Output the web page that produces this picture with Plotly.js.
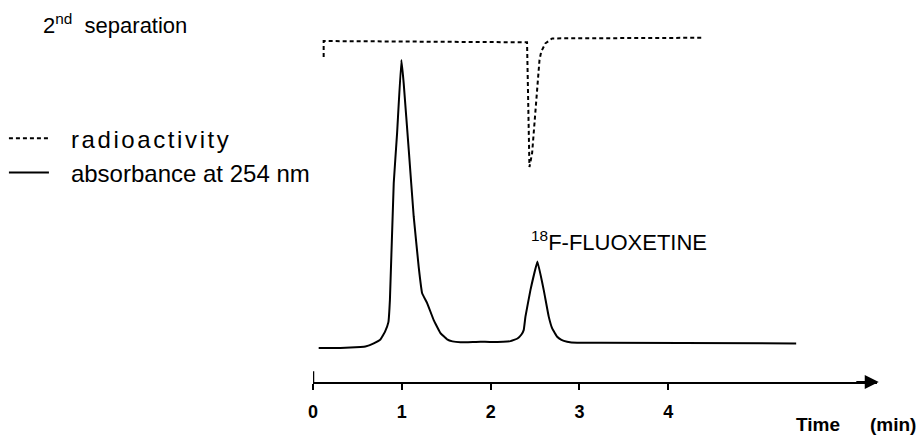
<!DOCTYPE html>
<html>
<head>
<meta charset="utf-8">
<script src="https://cdn.plot.ly/plotly-3.0.1.min.js"></script>
<style>
html,body{margin:0;padding:0;background:#fff;}
#chart{width:918px;height:441px;}
#chart .legend .scrollbox{clip-path:none !important;}
#chart .legend .legendtext{transform:translateX(17px);}
#chart .legend .traces:first-child .legendtext{letter-spacing:2.6px;}
</style>
</head>
<body>
<div id="chart"></div>
<script>
// time in minutes
var radioTime = [0.12, 0.12, 2.41, 2.437, 2.467, 2.505, 2.527, 2.55, 2.569, 2.617, 2.693, 4.40];
// radioactivity trace (arbitrary units, baseline 0, drawn as a downward deflection)
var radioValue = [-12.7, 0, -1.0, -100, -88.9, -57.1, -33.3, -15.1, -8.5, -1.8, 2.1, 2.6];

var absTime = [0.064, 0.309, 0.534, 0.59, 0.684, 0.759, 0.81, 0.849, 0.866, 0.909, 0.947, 0.995, 1.021, 1.078, 1.134, 1.19, 1.229, 1.285, 1.359, 1.435, 1.51, 1.57, 1.66, 1.885, 1.998, 2.223, 2.302, 2.347, 2.373, 2.392, 2.448, 2.527, 2.598, 2.654, 2.693, 2.749, 2.797, 2.861, 2.974, 3.236, 5.44];
// absorbance at 254 nm (arbitrary units, main peak = 100)
var absValue = [0, 0, 0.35, 0.5, 1.6, 2.95, 5.6, 9.0, 16.7, 57.3, 74.7, 100, 92, 68.8, 45.6, 28.2, 19, 15.6, 9.7, 5.2, 3.0, 2.3, 2.0, 2.2, 2.1, 2.4, 3.3, 4.7, 6.3, 10.9, 20.1, 30.0, 20.1, 10.9, 6.8, 3.9, 2.8, 2.2, 1.8, 1.8, 1.6];

var tickVals = [0, 1, 2, 3, 4];
var tickText = ['0', '1', '2', '3', '4'];
var seriesNames = ['radioactivity', 'absorbance at 254 nm'];

var FONT = 'Liberation Sans, Arial, Helvetica, sans-serif';

var traces = [
  {x: radioTime, y: radioValue, yaxis: 'y2', type: 'scatter', mode: 'lines', name: seriesNames[0],
   line: {color: '#000', width: 2, dash: '4px,3px'}},
  {x: absTime, y: absValue, type: 'scatter', mode: 'lines', name: seriesNames[1],
   line: {color: '#000', width: 2, shape: 'spline', smoothing: 0.25}}
];

var layout = {
  width: 918, height: 441,
  margin: {l: 313, r: 41, t: 20, b: 59, autoexpand: false},
  paper_bgcolor: '#fff', plot_bgcolor: '#fff',
  font: {family: FONT, color: '#000'},
  showlegend: true,
  legend: {x: -0.548, y: 0.625, xanchor: 'left', yanchor: 'middle', font: {family: FONT, size: 24, color: '#000'},
           bgcolor: 'rgba(0,0,0,0)', itemwidth: 40, tracegroupgap: 0, traceorder: 'normal'},
  xaxis: {range: [0, 6.35], showgrid: false, zeroline: false, showline: true, linecolor: '#000', linewidth: 2,
          tickmode: 'array', tickvals: tickVals, ticktext: tickText, ticks: 'outside', ticklen: 6, tickwidth: 2,
          tickcolor: '#000', ticklabelstandoff: 6,
          tickfont: {family: FONT, size: 18, color: '#000', weight: 'bold'}},
  xaxis2: {overlaying: 'x', matches: 'x', anchor: 'y', side: 'bottom', showgrid: false, zeroline: false, showline: false,
           tickmode: 'array', tickvals: tickVals, ticks: 'inside', ticklen: 5, tickwidth: 2, tickcolor: '#000',
           showticklabels: false},
  yaxis: {range: [-11.8, 113.9], visible: false, showgrid: false, zeroline: false},
  yaxis2: {range: [-270.6, 16.7], overlaying: 'y', visible: false, showgrid: false, zeroline: false},
  shapes: [
    {type: 'line', xref: 'x', yref: 'paper', x0: 0, x1: 0, y0: 0, y1: 0.03, line: {color: '#000', width: 2.5}}
  ],
  annotations: [
    {xref: 'x', yref: 'y', x: 6.37, y: -11.8, axref: 'x', ayref: 'y', ax: 6.1, ay: -11.8, text: '',
     showarrow: true, arrowhead: 2, arrowsize: 1.4, arrowwidth: 2, arrowcolor: '#000', standoff: 0},
    {xref: 'paper', yref: 'paper', x: -0.482, y: 0.99, xanchor: 'left', yanchor: 'middle', showarrow: false,
     text: '2<sup>nd</sup>\u00a0 separation', font: {family: FONT, size: 22, color: '#000'}},
    {xref: 'paper', yref: 'paper', x: 0.383, y: 0.39, xanchor: 'left', yanchor: 'middle', showarrow: false,
     text: '<sup>18</sup>F-FLUOXETINE', font: {family: FONT, size: 22, color: '#000'}},
    {xref: 'paper', yref: 'paper', x: 0.853, y: -0.118, xanchor: 'left', yanchor: 'middle', showarrow: false,
     text: 'Time', font: {family: FONT, size: 19, color: '#000', weight: 'bold'}},
    {xref: 'paper', yref: 'paper', x: 1.073, y: -0.118, xanchor: 'right', yanchor: 'middle', showarrow: false,
     text: '(min)', font: {family: FONT, size: 19, color: '#000', weight: 'bold'}}
  ]
};

Plotly.newPlot('chart', traces, layout, {displayModeBar: false, staticPlot: true});
</script>
</body>
</html>
